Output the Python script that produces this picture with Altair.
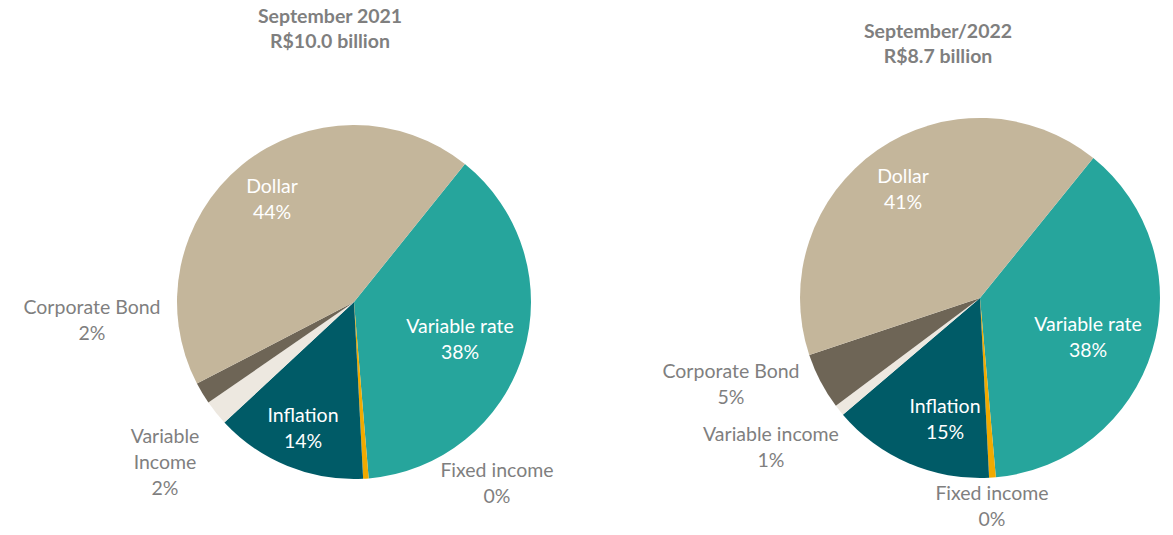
import math
import altair as alt
import pandas as pd

# ---- data ----
categories = ["Variable rate", "Fixed income", "Inflation", "Variable income", "Corporate Bond", "Dollar"]
sep2021 = [37.9, 0.5, 13.9, 2.3, 2.0, 43.4]
sep2022 = [37.8, 0.6, 14.6, 1.0, 5.1, 41.0]
colors = ["#26A59C", "#F0AA00", "#005B67", "#EDE8E0", "#6E6556", "#C4B69B"]

titles = ["September 2021\nR$10.0 billion", "September/2022\nR$8.7 billion"]
labels2021 = ["Variable rate\n38%", "Fixed income\n0%", "Inflation\n14%",
              "Variable\nIncome\n2%", "Corporate Bond\n2%", "Dollar\n44%"]
labels2022 = ["Variable rate\n38%", "Fixed income\n0%", "Inflation\n15%",
              "Variable income\n1%", "Corporate Bond\n5%", "Dollar\n41%"]
inside = [True, False, True, False, False, True]

# ---- layout (pixels within the chart; text positions are first-line centres) ----
W, H = 1157, 519
pie_center = [(346, 294), (972, 290)]
pie_radius = [177, 180]
pie_start_deg = [38.8, 39.0]
title_pos = [(322, 8.5), (930, 24)]
label_pos2021 = [(452, 319), (489, 463), (295, 408), (157, 429), (84, 300), (264, 179)]
label_pos2022 = [(1080, 317), (984, 486), (937, 399), (763, 427), (723, 364), (895, 169)]

FONT = "Lato"
GREY = "#7F7F7F"

color_scale = alt.Scale(domain=categories, range=colors)


def pie(values, center, radius, start_deg):
    df = pd.DataFrame({"cat": categories, "value": values, "idx": list(range(len(categories)))})
    a0 = math.radians(start_deg)
    return alt.Chart(df).mark_arc(outerRadius=radius, stroke=None).encode(
        theta=alt.Theta("value:Q", stack=True,
                        scale=alt.Scale(range=[a0, a0 + 2 * math.pi])),
        color=alt.Color("cat:N", scale=color_scale, legend=None),
        order=alt.Order("idx:Q"),
        x=alt.value(center[0]),
        y=alt.value(center[1]),
    )


def label_layer(texts, positions, inside_flags):
    df = pd.DataFrame({
        "text": texts,
        "lx": [p[0] for p in positions],
        "ly": [p[1] for p in positions],
        "inside": ["in" if f else "out" for f in inside_flags],
    })
    return alt.Chart(df).mark_text(
        font=FONT, fontSize=19.5, lineBreak="\n", lineHeight=26,
        align="center", baseline="middle",
    ).encode(
        x=alt.X("lx:Q", scale=None, axis=None),
        y=alt.Y("ly:Q", scale=None, axis=None),
        text="text:N",
        color=alt.Color("inside:N", scale=alt.Scale(domain=["in", "out"], range=["#FFFFFF", GREY]), legend=None),
    )


title_df = pd.DataFrame({
    "text": titles,
    "tx": [p[0] for p in title_pos],
    "ty": [p[1] for p in title_pos],
})
title_layer = alt.Chart(title_df).mark_text(
    font=FONT, fontSize=19.5, fontWeight="bold", lineBreak="\n", lineHeight=25,
    align="center", baseline="middle", color=GREY,
).encode(
    x=alt.X("tx:Q", scale=None, axis=None),
    y=alt.Y("ty:Q", scale=None, axis=None),
    text="text:N",
)

chart = alt.layer(
    pie(sep2021, pie_center[0], pie_radius[0], pie_start_deg[0]),
    pie(sep2022, pie_center[1], pie_radius[1], pie_start_deg[1]),
    label_layer(labels2021, label_pos2021, inside),
    label_layer(labels2022, label_pos2022, inside),
    title_layer,
).resolve_scale(theta="independent", color="independent").properties(
    width=W, height=H, padding=0,
    autosize=alt.AutoSizeParams(type="none"),
).configure_view(stroke=None)

chart.save("out.html", embed_options={"renderer": "svg", "actions": False})
